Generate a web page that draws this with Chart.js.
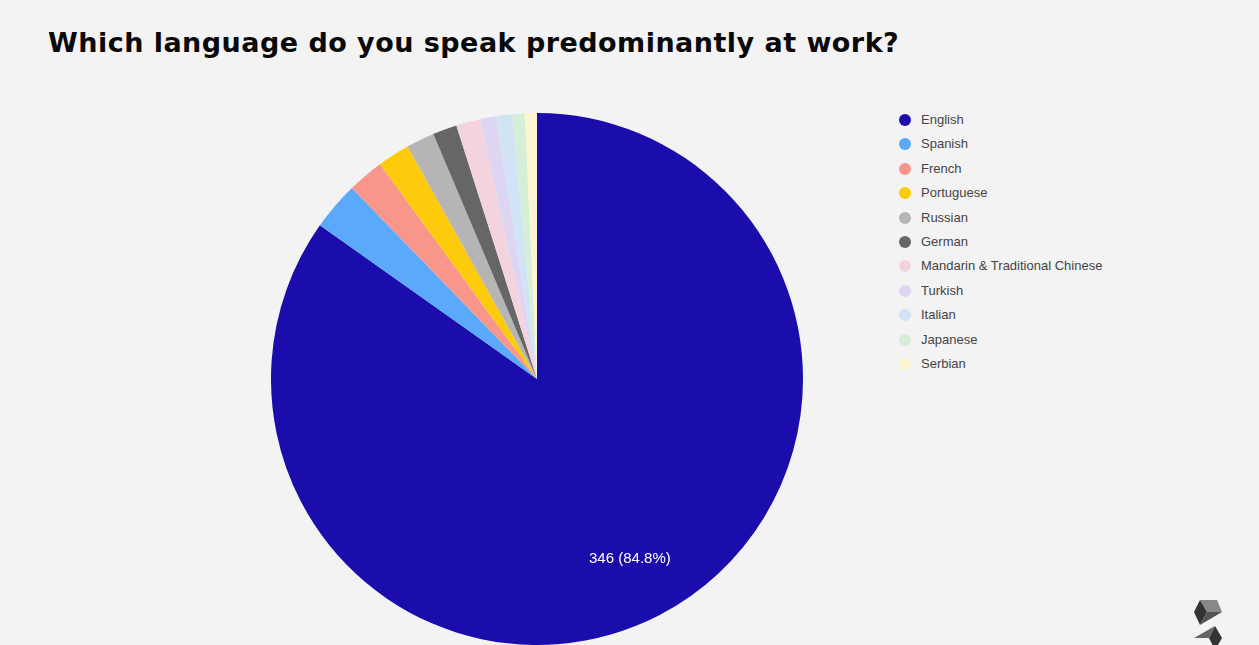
<!DOCTYPE html>
<html>
<head>
<meta charset="utf-8">
<script src="https://cdn.jsdelivr.net/npm/chart.js@4.4.1/dist/chart.umd.min.js"></script>
<style>
  html, body { margin: 0; padding: 0; background: #f3f3f3; overflow: hidden; }
  body { width: 1259px; height: 645px; position: relative; }
  h1 {
    position: absolute; left: 48px; top: 27px; margin: 0; line-height: 31px;
    font-family: "DejaVu Sans", sans-serif; font-weight: bold; font-size: 27px;
    color: #0a0a0a; white-space: nowrap;
  }
  #wrap { position: absolute; left: 271px; top: 113px; width: 532px; height: 532px; }
  #legend { position: absolute; left: 899px; top: 111px; list-style: none; margin: 0; padding: 0;
    font-family: "Liberation Sans", Arial, sans-serif; font-size: 13px; color: #444; }
  #legend li { height: 24.4px; line-height: 18px; position: relative; padding-left: 22px; }
  #legend li span { position: absolute; left: 0; top: 3px; width: 12px; height: 12px; border-radius: 50%; }
  #logo { position: absolute; left: 1185px; top: 595px; }
</style>
</head>
<body>
<h1 id="title">Which language do you speak predominantly at work?</h1>
<div id="wrap"><canvas id="pieChart"></canvas></div>
<ul id="legend"></ul>
<svg id="logo" width="45" height="50" viewBox="0 0 45 50">
  <polygon points="15,5 32,5 37,17 22,17" fill="#888"/>
  <polygon points="15,5 22,17 15,30 9,17" fill="#333"/>
  <polygon points="22,17 37,17 15,30" fill="#555"/>
  <polygon points="30,31 37,43 30,55 24,43" fill="#333"/>
  <polygon points="9,43 24,43 30,31" fill="#666"/>
</svg>
<script>
// Dades del gràfic
const languages = ['English', 'Spanish', 'French', 'Portuguese', 'Russian', 'German',
  'Mandarin & Traditional Chinese', 'Turkish', 'Italian', 'Japanese', 'Serbian'];
const answers = [346, 12, 9, 8, 7, 6, 6, 4, 4, 3, 3];
const colors = ['#1a0dab', '#5ba9fb', '#f8968a', '#fbcb0c', '#b5b5b5', '#666666',
  '#f3d3dd', '#ddd5f1', '#d0e4f6', '#d5eed6', '#fdf5d2'];

// Ajusta l'amplada del títol
const title = document.getElementById('title');
const targetWidth = 851;
const extra = (targetWidth - title.getBoundingClientRect().width) / title.textContent.length;
title.style.letterSpacing = extra.toFixed(2) + 'px';

// Llegenda HTML
const legend = document.getElementById('legend');
languages.forEach((name, i) => {
  const li = document.createElement('li');
  li.innerHTML = '<span style="background:' + colors[i] + '"></span>' + name;
  legend.appendChild(li);
});

// Etiqueta de valor sobre la porció principal
const valueLabel = {
  id: 'valueLabel',
  afterDatasetsDraw(chart) {
    const ctx = chart.ctx;
    const meta = chart.getDatasetMeta(0);
    const total = answers.reduce((a, b) => a + b, 0);
    meta.data.forEach((arc, i) => {
      const share = answers[i] / total;
      if (share < 0.1) return;
      const p = arc.getProps(['x', 'y', 'startAngle', 'endAngle', 'outerRadius']);
      const mid = (p.startAngle + p.endAngle) / 2;
      const r = p.outerRadius * 0.76;
      ctx.save();
      ctx.fillStyle = '#ffffff';
      ctx.font = '15px "Liberation Sans", Arial, sans-serif';
      ctx.textAlign = 'center';
      ctx.textBaseline = 'middle';
      ctx.fillText(answers[i] + ' (' + (share * 100).toFixed(1) + '%)',
        p.x + Math.cos(mid) * r, p.y + Math.sin(mid) * r);
      ctx.restore();
    });
  }
};

const pieCtx = document.getElementById('pieChart').getContext('2d');
const pieChart = new Chart(pieCtx, {
  type: 'pie',
  data: {
    labels: languages,
    datasets: [{
      data: answers,
      backgroundColor: colors,
      borderWidth: 0
    }]
  },
  options: {
    responsive: true,
    maintainAspectRatio: false,
    animation: false,
    layout: { padding: 0 },
    plugins: {
      legend: { display: false },
      tooltip: { enabled: false }
    }
  },
  plugins: [valueLabel]
});
</script>
</body>
</html>
